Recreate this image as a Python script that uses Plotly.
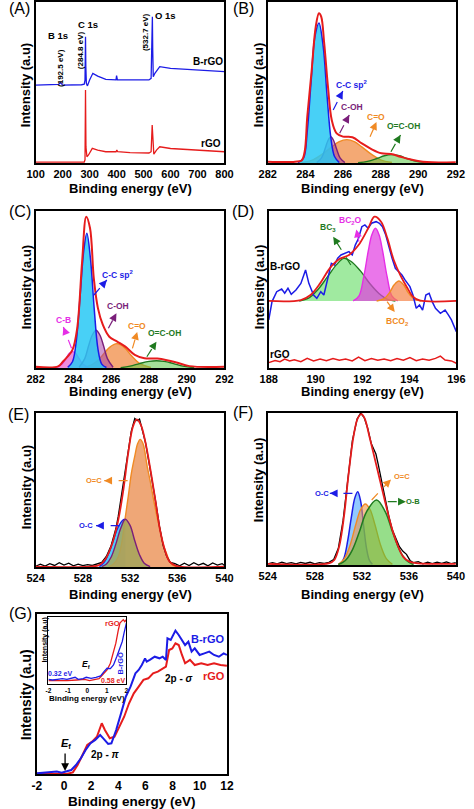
import plotly.graph_objects as go

W, H = 474, 809
FONT = "Liberation Sans, Arial, sans-serif"
BLUE = "#1c1ce6"
RED = "#e61c1c"
PURPLE = "#7a1f7a"
ORANGE = "#f08a24"
GREEN = "#1f7a1f"
MAGENTA = "#e62ee6"

# ---------------- DATA ----------------
# (A) XPS survey
a_brgo_x = [100, 150, 185, 192.5, 200, 270, 280, 283, 284.8, 286, 288, 292, 300, 312, 330, 360, 398, 400, 403, 450,
            520, 528, 530, 532.7, 534, 536, 542, 550, 560, 600, 700, 800]
a_brgo_y = [48.4, 48.4, 48.8, 49.9, 48.4, 48.6, 49.0, 51.5, 78.4, 60, 49.5, 47.9, 51.6, 55.7, 54, 52, 51.6, 54.3, 51.6, 51.6,
            51.6, 52.6, 70.2, 90.9, 70, 53.6, 55.7, 57.8, 59.8, 58.8, 57.8, 56.7]
a_rgo_x = [100, 200, 280, 283, 284.8, 286.5, 290, 296, 310, 330, 360, 398, 401, 404, 450, 520, 528, 532.0, 535, 538,
           548, 560, 600, 700, 800]
a_rgo_y = [0.5, 0.5, 0.6, 2, 45.3, 10, 3.9, 5, 9.1, 8, 7, 7, 8, 7, 6.5, 6.2, 7, 23.6, 8, 5.5,
           8, 10.1, 9, 8, 7]

# (B) C 1s, rGO
b_env_x = [282, 283.45, 283.8, 283.96, 284.1, 284.33, 284.55, 284.72, 284.84, 285.0, 285.2, 285.4, 285.66, 286.0,
           286.5, 287.0, 287.53, 288.04, 288.55, 289.06, 289.57, 290.25, 292]
b_env_y = [0.8, 0.8, 1.6, 7, 28.8, 57, 84.7, 93, 90.9, 74.3, 47.4, 26.7, 18.4, 16.4, 16, 12.2, 8.5, 6, 5.6, 3.9, 2.3, 0.8, 0.4]
b_ccsp2_x = [283.6, 283.9, 284.1, 284.3, 284.5, 284.72, 284.95, 285.15, 285.35, 285.55, 285.8]
b_ccsp2_y = [0.3, 3, 20, 50, 78, 87, 72, 42, 16, 4, 0.3]
b_coh_x = [284.6, 284.85, 285.05, 285.2, 285.35, 285.5, 285.65, 285.85, 286.1]
b_coh_y = [0.3, 3, 9, 14, 16.3, 14, 9, 3, 0.3]
b_co_x = [283.8, 284.4, 284.9, 285.4, 285.8, 286.2, 286.6, 287.0, 287.5, 288.0, 288.6]
b_co_y = [0.3, 2, 5.5, 10, 13.3, 14.5, 13.3, 10, 5.5, 2, 0.3]
b_ocoh_x = [286.8, 287.3, 287.8, 288.2, 288.6, 289.0, 289.4, 289.9, 290.5]
b_ocoh_y = [0.2, 1, 2.8, 4.5, 5.2, 4.5, 2.8, 1, 0.2]

# (C) C 1s, B-rGO
c_env_x = [282, 283.19, 283.44, 283.69, 283.95, 284.2, 284.46, 284.68, 284.88, 285.08, 285.3, 285.56, 285.9, 286.32,
           286.75, 287.25, 287.76, 288.44, 288.95, 289.46, 290.14, 292]
c_env_y = [0.8, 1, 4, 7.2, 11.5, 25.3, 67.7, 96.4, 89, 57.1, 38, 27.4, 19.9, 16.8, 13.6, 8.3, 6.2, 6, 5, 3.5, 1.2, 0.8]
c_ccsp2_x = [283.7, 283.95, 284.15, 284.35, 284.55, 284.71, 284.9, 285.1, 285.3, 285.5, 285.75]
c_ccsp2_y = [0.5, 4, 17, 45, 75, 85.8, 70, 38, 12, 2.5, 0.3]
c_cb_x = [283.1, 283.4, 283.6, 283.8, 283.95, 284.1, 284.3, 284.5, 284.8]
c_cb_y = [0.3, 2.5, 6, 9.5, 10.4, 9.5, 6, 2.5, 0.3]
c_coh_x = [284.3, 284.6, 284.8, 285.0, 285.2, 285.4, 285.6, 285.8, 286.1]
c_coh_y = [0.5, 6, 14, 21, 24, 21, 14, 6, 0.5]
c_co_x = [284.6, 285.1, 285.5, 285.9, 286.3, 286.7, 287.1, 287.5, 288.1]
c_co_y = [0.3, 3, 7.5, 13, 15.5, 13, 7.5, 3, 0.3]
c_ocoh_x = [286.5, 287.0, 287.5, 288.0, 288.4, 288.8, 289.3, 289.8, 290.4]
c_ocoh_y = [0.2, 1.2, 2.8, 4.2, 4.6, 4.2, 2.8, 1.2, 0.2]

# (D) B 1s
d_env_x = [188.0, 189.37, 189.78, 190.19, 190.6, 191.01, 191.42, 191.83, 192.24, 192.51, 192.79, 193.06, 193.33,
           193.61, 193.88, 194.15, 194.43, 196.0]
d_env_y = [42.7, 43.3, 46.5, 53.9, 63.5, 69.4, 72, 78.3, 89, 96.4, 93.2, 82.6, 68.8, 59.2, 51.8, 45.4, 43, 42.7]
d_bc3_x = [189.3, 189.7, 190.1, 190.5, 190.9, 191.2, 191.5, 191.9, 192.3, 192.7, 193.1, 193.4]
d_bc3_y = [42.7, 44.5, 50, 58, 66, 69.8, 68, 62, 54, 47.5, 43.5, 42.7]
d_bc2o_x = [191.6, 191.85, 192.05, 192.25, 192.4, 192.55, 192.7, 192.85, 193.05, 193.25, 193.5]
d_bc2o_y = [42.7, 46, 58, 75, 85, 89, 85, 75, 58, 46, 42.7]
d_bco2_x = [192.6, 192.9, 193.15, 193.35, 193.55, 193.75, 193.95, 194.2, 194.5]
d_bco2_y = [42.7, 44, 48, 53, 55.4, 53, 48, 44, 42.7]
d_brgo_x = [188.00, 188.14, 188.34, 188.55, 188.68, 188.82, 188.96, 189.16, 189.37, 189.57, 189.71, 189.91, 190.05,
            190.22, 190.35, 190.53, 190.67, 190.80, 190.94, 191.08, 191.28, 191.42, 191.56, 191.69, 191.83, 191.97,
            192.10, 192.24, 192.38, 192.58, 192.72, 192.85, 192.99, 193.13, 193.26, 193.40, 193.54, 193.68, 193.81,
            194.02, 194.15, 194.29, 194.43, 194.56, 194.70, 194.84, 194.97, 195.11, 195.32, 195.52, 195.66, 195.79, 196.00]
d_brgo_y = [30.6, 42.3, 48.6, 50.3, 47.6, 50.8, 46.9, 49.7, 53.9, 62.4, 53.9, 46.5, 44.4, 48.6, 46.5, 57.1, 66.7, 65.6,
            69.9, 72, 73, 74.1, 72, 78.3, 82.6, 90, 91.1, 89, 92.2, 93.2, 92.2, 90, 84.7, 76.2, 69.9, 63.5, 61.3, 59.2,
            56.1, 51.8, 46.5, 38, 40.1, 36.9, 46.5, 47.6, 42.3, 38, 34.8, 36.9, 33.8, 30.6, 23.1]
d_rgo_x = [188.00, 188.27, 188.48, 188.68, 188.89, 189.09, 189.37, 189.64, 189.91, 190.19, 190.46, 190.74, 191.01,
           191.28, 191.56, 191.83, 192.10, 192.38, 192.65, 192.92, 193.20, 193.47, 193.74, 194.02, 194.29, 194.56,
           194.84, 195.11, 195.32, 195.52, 195.79, 196.00]
d_rgo_y = [3.4, 4.7, 4, 5.7, 4.5, 5.3, 4, 6.1, 4.5, 5.7, 4.7, 6.1, 4.9, 5.7, 4.5, 7, 4.7, 6.1, 4.9, 5.7, 4.7, 6.1, 4.9,
           6.6, 4.7, 5.7, 4.9, 6.1, 7.6, 5.1, 4.5, 3]

# (E) O 1s, rGO
e_raw_x = [524.0, 524.4, 524.8, 525.2, 525.6, 526.0, 526.4, 526.8, 527.2, 527.6, 528.0, 528.4, 528.8, 529.2, 529.6,
           530.0, 530.4, 530.8, 531.0, 531.4, 531.8, 532.1, 532.4, 532.6, 532.8, 533.0, 533.3, 533.6, 533.9, 534.2,
           534.5, 534.8, 535.1, 535.4, 535.8, 536.2, 536.6, 537.0, 537.4, 537.8, 538.2, 538.6, 539.0, 539.4, 539.8, 540.0]
e_raw_y = [0.5, 1.8, 0.6, 2.2, 1.0, 2.8, 1.2, 2.5, 0.8, 1.9, 0.9, 1.6, 1.0, 1.8, 3, 7, 14, 25, 33, 53, 74, 88, 96.5, 95,
           96, 90, 81, 68, 55, 41, 26, 14, 7, 3, 2.2, 0.8, 2.5, 1.0, 2.8, 1.2, 2.4, 0.8, 2.6, 1.2, 2.2, 1.0]
e_env_x = [524, 528.6, 529.4, 529.95, 530.5, 531.0, 531.43, 531.84, 532.24, 532.57, 532.92, 533.32, 533.73, 534.14,
           534.54, 534.95, 535.35, 535.9, 540]
e_env_y = [0.2, 0.2, 1.3, 5.6, 15.4, 30.5, 50, 73.8, 91.1, 95.9, 92.2, 80.3, 63, 43.5, 24, 11, 3.5, 0.8, 0.2]
e_oc_x = [529.6, 530.0, 530.4, 530.8, 531.2, 531.6, 532.0, 532.4, 532.8, 533.2, 533.7]
e_oc_y = [0.3, 2, 6.5, 15, 25, 31, 27, 17, 8, 2.5, 0.3]
e_oc_edge_x = [529.4, 529.8, 530.2, 530.6, 531.0, 531.4, 531.6]
e_oc_edge_y = [0.3, 3, 9, 18, 26, 30.5, 31]
e_o2c_x = [530.2, 530.6, 531.0, 531.3, 531.57, 531.85, 532.11, 532.4, 532.65, 532.86, 533.1, 533.46, 533.75, 534.0,
           534.27, 534.54, 534.8, 535.08, 535.5, 535.9]
e_o2c_y = [0.3, 2, 6.7, 16, 31, 46, 60.8, 72, 80.3, 82.9, 80, 65, 54, 43.5, 33, 24, 15, 8.9, 2, 0.3]

# (F) O 1s, B-rGO
f_raw_x = [524.0, 524.4, 524.8, 525.2, 525.6, 526.0, 526.4, 526.8, 527.2, 527.6, 528.0, 528.4, 528.8, 529.2, 529.6,
           530.0, 530.4, 530.8, 531.2, 531.6, 531.9, 532.2, 532.5, 532.8, 533.0, 533.2, 533.4, 533.7, 534.0, 534.3,
           534.6, 534.9, 535.2, 535.5, 535.8, 536.1, 536.4, 536.8, 537.2, 537.6, 538.0, 538.4, 538.8, 539.2, 539.6, 540.0]
f_raw_y = [0.8, 1.5, 0.7, 1.8, 0.9, 1.6, 0.7, 1.7, 1.0, 1.8, 0.8, 1.5, 1.0, 1.8, 3.5, 11, 29, 57, 82, 96, 100, 97, 90,
           80, 77, 73, 66, 55, 42, 32, 23, 17, 12, 9, 7, 3, 1.5, 2.2, 0.8, 1.9, 0.9, 1.8, 1.0, 2.0, 0.9, 1.5]
f_env_x = [524, 529.25, 529.66, 530.07, 530.48, 530.88, 531.29, 531.65, 531.97, 532.24, 532.65, 533.06, 533.47, 533.88,
           534.29, 534.69, 535.10, 535.51, 536.05, 536.6, 540]
f_env_y = [0.7, 1.3, 3.3, 12, 31.8, 60.3, 84.4, 96.5, 99.3, 96.5, 84.4, 71.3, 58.1, 44.9, 31.8, 20.8, 12, 5.5, 2.2, 1.3, 0.7]
f_oc_x = [530.2, 530.5, 530.8, 531.1, 531.4, 531.65, 531.9, 532.15, 532.4, 532.65, 532.9]
f_oc_y = [0.5, 5, 16, 31, 44, 48.2, 42, 26, 11, 3, 0.5]
f_o2c_x = [530.0, 530.5, 531.0, 531.5, 531.9, 532.3, 532.7, 533.1, 533.6, 534.1, 534.6]
f_o2c_y = [0.5, 4, 13, 27, 36.5, 40.1, 36.5, 27, 13, 4, 0.5]
f_ob_x = [530.0, 530.6, 531.2, 531.8, 532.4, 533.25, 534.0, 534.6, 535.2, 535.8, 536.4]
f_ob_y = [0.3, 3, 10, 22, 35, 42.8, 35, 22, 10, 3, 0.3]

# (G) valence band
g_brgo_x = [-2.00, -1.48, -1.01, -0.53, -0.18, 0.18, 0.53, 0.88, 1.24, 1.59, 1.95, 2.30, 2.66, 2.89, 3.25, 3.49, 3.84,
            4.20, 4.55, 4.90, 5.26, 5.50, 5.73, 5.97, 6.09, 6.32, 6.68, 7.03, 7.27, 7.51, 7.62, 7.86, 8.10, 8.21, 8.45,
            8.69, 8.92, 9.16, 9.40, 9.63, 9.99, 10.34, 10.70, 11.05, 11.41, 11.76, 12.00]
g_brgo_y = [0.4, 0.8, 1.0, 1.5, 0.8, 1.5, 2.5, 5.6, 9.8, 15, 19.2, 21.3, 24.4, 22.3, 18.8, 19.2, 27.5, 37.9, 48.3, 54.6,
            62.9, 65, 68.1, 72.3, 70.2, 71.3, 73.3, 72.3, 73.3, 71.3, 84.8, 83.8, 87.9, 89.6, 86.9, 83.8, 80.6, 82.7,
            76.5, 78.5, 74.4, 75.4, 76.5, 74.4, 73.3, 75.4, 74.4]
g_rgo_x = [-2.00, -0.53, 0.18, 0.65, 1.00, 1.36, 1.71, 2.07, 2.42, 2.78, 3.01, 3.37, 3.72, 4.08, 4.43, 4.79, 5.14, 5.50,
           5.85, 6.21, 6.56, 6.91, 7.27, 7.51, 7.74, 7.98, 8.21, 8.45, 8.69, 8.92, 9.28, 9.63, 10.11, 10.58, 11.05,
           11.53, 12.00]
g_rgo_y = [0.2, 0.2, 0, 1, 5.6, 11.9, 18.1, 20.2, 23.3, 31.7, 27.5, 22.3, 23.3, 29.6, 35.8, 44.2, 50.4, 54.6, 58.8, 59.8,
           62.9, 64, 66, 67.1, 77.5, 78.5, 81.7, 80.6, 74.4, 69.2, 71.3, 68.1, 69.2, 68.1, 69.2, 68.1, 67.6]
# (G) inset
i_brgo_x = [-2.00, -1.79, -1.54, -1.29, -1.05, -0.80, -0.63, -0.47, -0.22, -0.06, 0.19, 0.44, 0.68, 0.85, 1.01, 1.18,
            1.34, 1.51, 1.67, 1.79, 1.88, 2.00]
i_brgo_y = [7, 6, 7, 8, 7, 9, 10, 7, 8, 10, 8.5, 10, 12, 18.5, 23.5, 23, 28.5, 41, 56, 63.5, 76, 91]
i_rgo_x = [-2.00, -1.54, -1.05, -0.55, -0.14, 0.11, 0.35, 0.60, 0.85, 1.01, 1.18, 1.34, 1.46, 1.59, 1.67, 1.75, 1.84,
           1.92, 2.00]
i_rgo_y = [5, 4.5, 5, 6, 7, 5, 6, 8, 16, 21, 31, 48.5, 61, 81, 91, 93.5, 96, 93, 96]

# axis settings
x_ranges = {1: [100, 800], 2: [282, 292], 3: [282, 292], 4: [188, 196], 5: [524, 540], 6: [524, 540], 7: [-2, 12], 8: [-2, 2]}
x_ticks = {1: [100, 200, 300, 400, 500, 600, 700, 800], 2: [282, 284, 286, 288, 290, 292], 3: [282, 284, 286, 288, 290, 292],
           4: [188, 190, 192, 194, 196], 5: [524, 528, 532, 536, 540], 6: [524, 528, 532, 536, 540],
           7: [-2, 0, 2, 4, 6, 8, 10, 12], 8: [-2, -1, 0, 1, 2]}

# ---------------- FIGURE ----------------
fig = go.Figure()


def ax_id(n):
    return ("x" if n == 1 else f"x{n}"), ("y" if n == 1 else f"y{n}")


def line(n, x, y, color, width=1.5, shape="spline", fill=None, fillcolor=None):
    xa, ya = ax_id(n)
    fig.add_trace(go.Scatter(x=x, y=y, xaxis=xa, yaxis=ya, mode="lines",
                             line=dict(color=color, width=width, shape=shape,
                                       smoothing=1.0 if shape == "spline" else None),
                             fill=fill, fillcolor=fillcolor, showlegend=False, hoverinfo="skip"))


# A
line(1, a_brgo_x, a_brgo_y, BLUE, 1.3, "linear")
line(1, a_rgo_x, a_rgo_y, RED, 1.3, "linear")
# B
line(2, b_co_x, b_co_y, ORANGE, 1.4, fill="tozeroy", fillcolor="rgba(240,140,70,0.75)")
line(2, b_ocoh_x, b_ocoh_y, GREEN, 1.4, fill="tozeroy", fillcolor="rgba(90,200,70,0.55)")
line(2, b_coh_x, b_coh_y, PURPLE, 1.4, fill="tozeroy", fillcolor="rgba(170,70,150,0.55)")
line(2, b_ccsp2_x, b_ccsp2_y, BLUE, 1.5, fill="tozeroy", fillcolor="rgba(40,200,245,0.85)")
line(2, b_env_x, b_env_y, RED, 2)
# C
line(3, c_co_x, c_co_y, ORANGE, 1.4, fill="tozeroy", fillcolor="rgba(240,140,70,0.75)")
line(3, c_ocoh_x, c_ocoh_y, GREEN, 1.4, fill="tozeroy", fillcolor="rgba(90,200,70,0.55)")
line(3, c_cb_x, c_cb_y, MAGENTA, 1.4, fill="tozeroy", fillcolor="rgba(230,80,200,0.65)")
line(3, c_coh_x, c_coh_y, PURPLE, 1.4, fill="tozeroy", fillcolor="rgba(170,70,170,0.55)")
line(3, c_ccsp2_x, c_ccsp2_y, BLUE, 1.5, fill="tozeroy", fillcolor="rgba(40,200,245,0.85)")
line(3, c_env_x, c_env_y, RED, 2)
# D
line(4, d_bc3_x, d_bc3_y, GREEN, 1.4, fill="toself", fillcolor="rgba(120,225,120,0.7)")
line(4, d_bc2o_x, d_bc2o_y, MAGENTA, 1.4, fill="toself", fillcolor="rgba(225,60,225,0.7)")
line(4, d_bco2_x, d_bco2_y, ORANGE, 1.4, fill="toself", fillcolor="rgba(245,130,70,0.7)")
line(4, d_brgo_x, d_brgo_y, BLUE, 1.5, "linear")
line(4, d_env_x, d_env_y, RED, 1.8)
line(4, d_rgo_x, d_rgo_y, RED, 1.5, "linear")
# E
line(5, e_oc_edge_x, e_oc_edge_y, BLUE, 1.4, fill="tozeroy", fillcolor="rgba(60,200,255,0.9)")
line(5, e_o2c_x, e_o2c_y, ORANGE, 1.4, fill="tozeroy", fillcolor="rgba(235,145,85,0.8)")
line(5, e_oc_x, e_oc_y, PURPLE, 1.4, fill="tozeroy", fillcolor="rgba(165,165,90,0.85)")
line(5, e_raw_x, e_raw_y, "black", 1.3, "linear")
line(5, e_env_x, e_env_y, RED, 1.8)
# F
line(6, f_oc_x, f_oc_y, BLUE, 1.5, fill="tozeroy", fillcolor="rgba(100,180,255,0.7)")
line(6, f_o2c_x, f_o2c_y, ORANGE, 1.4, fill="tozeroy", fillcolor="rgba(240,150,70,0.6)")
line(6, f_ob_x, f_ob_y, GREEN, 1.5, fill="tozeroy", fillcolor="rgba(80,200,60,0.6)")
line(6, f_raw_x, f_raw_y, "black", 1.3, "linear")
line(6, f_env_x, f_env_y, RED, 1.8)
# G
line(7, g_rgo_x, g_rgo_y, RED, 2, "linear")
line(7, g_brgo_x, g_brgo_y, BLUE, 2, "linear")
line(8, i_rgo_x, i_rgo_y, RED, 1.3, "linear")
line(8, i_brgo_x, i_brgo_y, BLUE, 1.3, "linear")

# boxes in pixels: left, top, right, bottom
boxes = {1: (27.7, 2, 224, 163), 2: (269, 2, 464.5, 163), 3: (27.7, 211, 224, 368), 4: (270, 211, 465, 368),
         5: (27.7, 413, 224, 567), 6: (269, 413, 464.5, 565), 7: (29, 614, 226.5, 774), 8: (41, 617, 122, 684)}
tick_size = {1: 11, 2: 11, 3: 11, 4: 11, 5: 11, 6: 11, 7: 12, 8: 6.5}
layout = {}
for n, (l, t, r, b) in boxes.items():
    xk = "xaxis" if n == 1 else f"xaxis{n}"
    yk = "yaxis" if n == 1 else f"yaxis{n}"
    xa, ya = ax_id(n)
    lw = 1.1 if n == 8 else 1.6
    layout[xk] = dict(domain=[l / W, r / W], range=x_ranges[n], tickvals=x_ticks[n],
                      ticktext=[str(v) for v in x_ticks[n]], anchor=ya,
                      showline=True, mirror=True, linecolor="black", linewidth=lw, ticks="",
                      ticklabelstandoff=(0 if n in (7, 8) else None),
                      showgrid=False, zeroline=False, fixedrange=True,
                      tickfont=dict(family=FONT, size=tick_size[n], color="black", weight="bold"))
    layout[yk] = dict(domain=[1 - b / H, 1 - t / H], range=[0, 100], anchor=xa,
                      showline=True, mirror=True, linecolor="black", linewidth=lw, ticks="",
                      showticklabels=False, showgrid=False, zeroline=False, fixedrange=True)

ann = []
shapes = []


def P(x, y):
    return x / W, 1 - y / H


def text(x, y, s, size=10, color="black", bold=True, angle=0):
    px, py = P(x, y)
    ann.append(dict(x=px, y=py, xref="paper", yref="paper", text=s, showarrow=False, textangle=angle,
                    xanchor="center", yanchor="middle",
                    font=dict(family=FONT, size=size, color=color, weight="bold" if bold else "normal")))


def arrow(tail, head, color, dashed=True):
    tx, ty = tail
    hx, hy = head
    dx, dy = tx - hx, ty - hy
    d = (dx * dx + dy * dy) ** 0.5
    if dashed:
        x0, y0 = P(tx, ty)
        x1, y1 = P(hx, hy)
        shapes.append(dict(type="line", xref="paper", yref="paper", x0=x0, y0=y0, x1=x1, y1=y1,
                           line=dict(color=color, width=1.2, dash="dash")))
        k = 5 / d
    else:
        k = 1.0
    px, py = P(hx, hy)
    ann.append(dict(x=px, y=py, xref="paper", yref="paper", text="", showarrow=True,
                    ax=dx * k, ay=dy * k, arrowhead=2, arrowsize=1.2, arrowwidth=1.3, arrowcolor=color))


# panel letters
for lab, (x, y) in {"(A)": (11, 8), "(B)": (244, 8), "(C)": (11, 212), "(D)": (243, 212),
                    "(E)": (10, 414), "(F)": (243, 413), "(G)": (12, 613)}.items():
    text(x, y, lab, 16, bold=False)

# axis titles
XT = "Binding energy (eV)"
YT = "Intensity (a.u)"
for (x, y) in [(126, 188), (367, 188), (126, 392), (367, 392), (126, 594), (367, 594)]:
    text(x, y, XT, 13)
for (x, y) in [(18, 85), (260, 85), (18, 287), (260, 287), (18, 487), (260, 480)]:
    text(x, y, YT, 13, angle=-90)
text(128, 801.5, XT, 13.5)
text(18, 695, YT, 14, angle=-90)
text(81.5, 698, XT, 8)
text(37, 640, YT, 7, angle=-90)

# (A) labels
text(51, 35, "B 1s", 9.5)
text(82.5, 24, "C 1s", 9.5)
text(163, 15.5, "O 1s", 9.5)
text(53, 68, "(192.5 eV)", 8, angle=-90)
text(75, 50, "(284.8 eV)", 8, angle=-90)
text(142.5, 32, "(532.7 eV)", 8, angle=-90)
text(207, 62, "B-rGO", 10)
text(210, 143, "rGO", 10)

# (B) labels
text(356, 85, "C-C sp<sup>2</sup>", 8.5, BLUE)
text(357, 107, "C-OH", 8.5, PURPLE)
text(381, 117, "C=O", 8.5, ORANGE)
text(410, 126, "O=C-OH", 8.5, GREEN)
arrow((337, 110), (347, 91), BLUE)
arrow((343.7, 133.3), (353.7, 115), PURPLE)
arrow((375.3, 136.7), (382, 122), ORANGE)
arrow((397, 151.7), (407, 135), GREEN)

# (C) labels
text(113, 274, "C-C sp<sup>2</sup>", 8.5, BLUE)
text(113, 305.7, "C-OH", 8.5, PURPLE)
text(56.7, 320, "C-B", 8.5, MAGENTA)
text(133.3, 326, "C=O", 8.5, ORANGE)
text(161.7, 332.7, "O=C-OH", 8.5, GREEN)
arrow((88.3, 295), (101.7, 280), BLUE)
arrow((103.3, 328.3), (111.7, 313.3), PURPLE)
arrow((65, 348.3), (56.5, 327), MAGENTA)
arrow((128.3, 348.3), (133.3, 332), ORANGE)
arrow((143.3, 356.7), (153.3, 341.7), GREEN)

# (D) labels
text(287, 266.7, "B-rGO", 10)
text(282, 354, "rGO", 10)
text(331.3, 227.7, "BC<sub>3</sub>", 8.5, GREEN)
text(355.3, 220.7, "BC<sub>2</sub>O", 8.5, MAGENTA)
text(403.7, 321, "BCO<sub>2</sub>", 8.5, ORANGE)
arrow((355.3, 265), (337, 236.7), GREEN)
arrow((363.7, 241.7), (361, 229.5), MAGENTA)
arrow((393, 301.7), (401, 312), ORANGE)

# (E) labels
text(88.3, 480.7, "O=C", 7.5, ORANGE)
text(80, 525.7, "O-C", 7.5, BLUE)
arrow((123.3, 480.7), (99, 480.7), ORANGE)
arrow((115, 525.7), (90.5, 525.7), BLUE)

# (F) labels
text(325.3, 493.3, "O-C", 7.5, BLUE)
text(408.7, 476, "O=C", 7.5, ORANGE)
text(420, 501.7, "O-B", 7.5, GREEN)
arrow((357, 493.3), (333.5, 493.3), BLUE)
arrow((377, 500), (397, 479.5), ORANGE)
arrow((393.7, 501.7), (412.5, 501.7), GREEN)

# (G) labels
text(206.7, 639.3, "B-rGO", 11, BLUE)
text(213.3, 676, "rGO", 11, RED)
text(176.7, 678.3, "2p - <i>σ</i>", 10)
text(100, 754.3, "2p - <i>π</i>", 10)
text(59.3, 744, "<i>E</i><sub>f</sub>", 11)
arrow((58.3, 752), (58.3, 771), "black", dashed=False)
# inset labels
text(107.3, 623.3, "rGO", 7.5, RED)
text(115.7, 663.3, "B-rGO", 7.5, BLUE, angle=-90)
text(53.3, 673.3, "0.32 eV", 7, BLUE)
text(108.3, 680, "0.58 eV", 7, RED)
text(80, 664, "<i>E</i><sub>f</sub>", 8.5)

fig.update_layout(width=W, height=H, margin=dict(l=0, r=0, t=0, b=0),
                  paper_bgcolor="white", plot_bgcolor="white",
                  annotations=ann, shapes=shapes, showlegend=False, **layout)
fig.write_html("out.html", config={"displayModeBar": False},
               post_script="document.body.style.margin='0px';document.body.style.overflow='hidden';")
